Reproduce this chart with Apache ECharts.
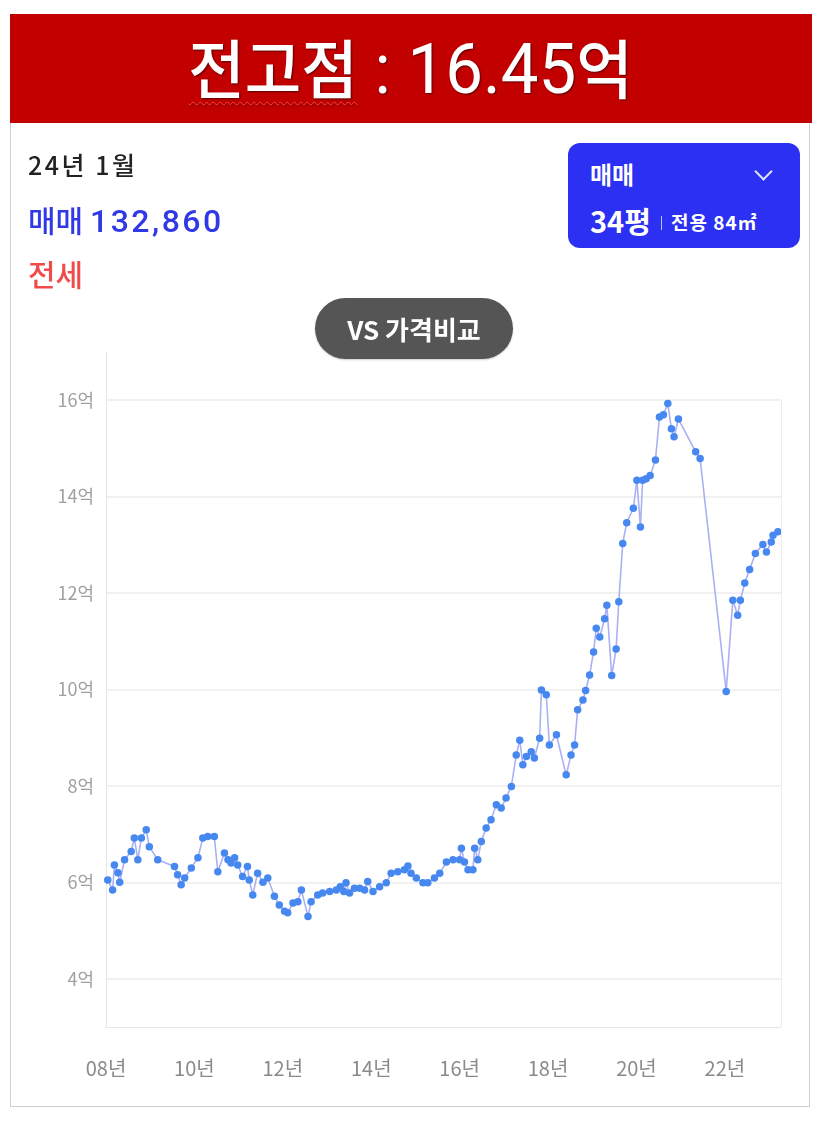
<!DOCTYPE html>
<html>
<head>
<meta charset="utf-8">
<script src="https://cdn.jsdelivr.net/npm/echarts@6/dist/echarts.min.js"></script>
<style>
  html, body { margin:0; padding:0; background:#fff; }
  body { width:827px; height:1122px; position:relative; overflow:hidden; font-family:"Noto Sans CJK KR","Noto Sans",sans-serif; }
  #card { position:absolute; left:10px; top:122px; width:800px; height:985px; border:1px solid #cfcfcf; border-top:none; box-sizing:border-box; }
  #header { position:absolute; left:10px; top:14px; width:802px; height:109px; background:#c30000; }
  #title { position:absolute; left:0; top:0; width:802px; height:109px; display:flex; align-items:center; justify-content:center; color:#fff; text-shadow:1px 1px 2px rgba(0,0,0,0.55); }
  #title .inner { transform:scaleX(0.96); white-space:nowrap; line-height:1; }
  #title .ko { font-family:"Noto Sans CJK KR"; font-size:64px; font-weight:500; }
  #title .num { font-family:"Roboto"; font-size:70px; font-weight:400; }
  #title .wavy { text-decoration:underline wavy #ff4040; text-decoration-thickness:1px; text-underline-offset:8px; }
  #chart { position:absolute; left:0; top:0; width:827px; height:1122px; }
  .info { position:absolute; left:28px; font-family:"Noto Sans CJK KR"; white-space:nowrap; line-height:1; }
  #date { top:152px; font-size:25px; color:#222; font-weight:500; letter-spacing:2.5px; }
  #sale { top:204px; font-size:30px; color:#3138e6; font-weight:500; }
  #sale .n { font-family:"Roboto"; font-size:32px; letter-spacing:2.5px; }
  #jeonse { top:258px; font-size:30px; color:#f04a4a; font-weight:500; }
  #sel { position:absolute; left:568px; top:143px; width:232px; height:105px; background:#2b30f2; border-radius:12px; color:#fff; font-family:"Noto Sans CJK KR"; }
  #sel .t1 { position:absolute; left:22px; top:19px; font-size:24px; font-weight:700; line-height:1; }
  #sel .chev { position:absolute; left:189px; top:22px; width:11px; height:11px; border-right:2px solid #dfe2ff; border-bottom:2px solid #dfe2ff; transform:rotate(45deg); transform-origin:center; }
  #sel .t2 { position:absolute; left:22px; top:63px; white-space:nowrap; line-height:1; }
  #sel .p { font-size:29px; font-weight:700; }
  #sel .bar { display:inline-block; width:1px; height:14px; background:#b9bdf8; margin:0 9px 0 10px; vertical-align:3px; }
  #sel .s { font-size:19px; font-weight:700; letter-spacing:1px; vertical-align:3px; }
  #vs { position:absolute; left:315px; top:298px; width:198px; height:61px; border-radius:31px; background:#555; color:#fff; font-family:"Noto Sans CJK KR"; font-size:26px; font-weight:700; display:flex; align-items:center; justify-content:center; box-shadow:0 1px 2px rgba(0,0,0,0.2); }
</style>
</head>
<body>
<div id="card"></div>
<div id="header"><div id="title"><div class="inner"><span class="ko wavy">전고점</span><span class="num"> : 16.45</span><span class="ko">억</span></div></div></div>
<div id="chart"></div>
<div class="info" id="date">24년 1월</div>
<div class="info" id="sale">매매 <span class="n">132,860</span></div>
<div class="info" id="jeonse">전세</div>
<div id="sel"><div class="t1">매매</div><div class="chev"></div><div class="t2"><span class="p">34평</span><span class="bar"></span><span class="s">전용 84㎡</span></div></div>
<div id="vs">VS 가격비교</div>
<script>
// decimal year of each transaction
const dates = [
  2008.04, 2008.15, 2008.19, 2008.27, 2008.31, 2008.42, 2008.57, 2008.64, 2008.72, 2008.80,
  2008.91, 2008.98, 2009.17, 2009.55, 2009.62, 2009.70, 2009.78, 2009.93, 2010.08, 2010.19,
  2010.30, 2010.45, 2010.53, 2010.68, 2010.76, 2010.83, 2010.91, 2010.98, 2011.09, 2011.20,
  2011.24, 2011.32, 2011.43, 2011.55, 2011.66, 2011.81, 2011.92, 2012.04, 2012.11, 2012.23,
  2012.34, 2012.42, 2012.57, 2012.64, 2012.79, 2012.90, 2013.06, 2013.21, 2013.30, 2013.38,
  2013.43, 2013.51, 2013.62, 2013.74, 2013.85, 2013.92, 2014.04, 2014.19, 2014.34, 2014.45,
  2014.60, 2014.75, 2014.83, 2014.90, 2015.02, 2015.17, 2015.28, 2015.43, 2015.55, 2015.70,
  2015.85, 2016.00, 2016.04, 2016.11, 2016.19, 2016.30, 2016.34, 2016.41, 2016.49, 2016.60,
  2016.71, 2016.83, 2016.94, 2017.05, 2017.17, 2017.28, 2017.36, 2017.43, 2017.51, 2017.62,
  2017.69, 2017.81, 2017.85, 2017.96, 2018.03, 2018.19, 2018.41, 2018.52, 2018.60, 2018.67,
  2018.79, 2018.85, 2018.94, 2019.03, 2019.09, 2019.17, 2019.28, 2019.33, 2019.44, 2019.54,
  2019.60, 2019.69, 2019.78, 2019.93, 2020.01, 2020.09, 2020.14, 2020.22, 2020.31, 2020.43,
  2020.52, 2020.61, 2020.71, 2020.79, 2020.85, 2020.95, 2021.34, 2021.44, 2022.03, 2022.18,
  2022.29, 2022.35, 2022.45, 2022.56, 2022.69, 2022.86, 2022.94, 2023.05, 2023.09, 2023.20
];
// sale price (억)
const prices = [
  6.05, 5.84, 6.36, 6.20, 6.00, 6.47, 6.64, 6.92, 6.47, 6.92,
  7.09, 6.74, 6.47, 6.33, 6.16, 5.95, 6.09, 6.30, 6.51, 6.92,
  6.95, 6.95, 6.22, 6.61, 6.47, 6.40, 6.51, 6.36, 6.12, 6.33,
  6.05, 5.74, 6.19, 6.00, 6.09, 5.71, 5.53, 5.40, 5.37, 5.57,
  5.60, 5.84, 5.29, 5.60, 5.74, 5.78, 5.81, 5.84, 5.91, 5.81,
  5.99, 5.78, 5.88, 5.88, 5.84, 6.02, 5.81, 5.91, 5.99, 6.19,
  6.22, 6.26, 6.34, 6.19, 6.09, 5.99, 5.99, 6.09, 6.19, 6.42,
  6.47, 6.47, 6.71, 6.42, 6.26, 6.26, 6.71, 6.47, 6.85, 7.13,
  7.30, 7.61, 7.54, 7.75, 7.99, 8.64, 8.95, 8.44, 8.61, 8.71,
  8.58, 8.99, 9.99, 9.89, 8.85, 9.06, 8.23, 8.64, 8.85, 9.58,
  9.78, 9.98, 10.30, 10.78, 11.27, 11.09, 11.47, 11.75, 10.29, 10.84,
  11.82, 13.03, 13.46, 13.76, 14.34, 13.37, 14.34, 14.37, 14.44, 14.76,
  15.65, 15.70, 15.93, 15.41, 15.24, 15.61, 14.93, 14.79, 9.96, 11.85,
  11.54, 11.85, 12.21, 12.49, 12.82, 13.01, 12.85, 13.06, 13.20, 13.27
];
const X_MIN = 2008, X_MAX = 2023.27;
const Y_MIN = 3, Y_MAX = 17;
const yLabelValues = [4, 6, 8, 10, 12, 14, 16];

const chart = echarts.init(document.getElementById('chart'), null, { renderer: 'canvas' });
chart.setOption({
  animation: false,
  backgroundColor: 'transparent',
  grid: { left: 106, right: 46, top: 352, bottom: 95, containLabel: false },
  xAxis: {
    type: 'value', min: X_MIN, max: X_MAX, interval: 2,
    axisLine: { show: true, lineStyle: { color: '#e6e6e6', width: 1 } },
    axisTick: { show: false },
    splitLine: { show: false },
    axisLabel: {
      margin: 31, color: '#8a8a8a', fontSize: 20, fontFamily: 'Noto Sans CJK KR',
      formatter: v => Number.isInteger(v) ? String(v % 100).padStart(2, '0') + '년' : ''
    }
  },
  yAxis: {
    type: 'value', min: Y_MIN, max: Y_MAX, interval: 1,
    axisLine: { show: true, lineStyle: { color: '#e6e6e6', width: 1 } },
    axisTick: { show: false },
    splitLine: { show: true, lineStyle: { color: ['rgba(0,0,0,0)', '#ececec'], width: 1.5 } },
    axisLabel: {
      margin: 12, color: '#a0a0a0', fontSize: 18, fontFamily: 'Noto Sans CJK KR',
      formatter: v => yLabelValues.includes(v) ? v + '억' : ''
    }
  },
  series: [{
    type: 'line',
    data: dates.map((d, i) => [d, prices[i]]),
    symbol: 'circle',
    symbolSize: 7.5,
    showAllSymbol: true,
    itemStyle: { color: '#4688f0' },
    lineStyle: { color: '#aab0f4', width: 1.6 },
    markLine: {
      silent: true, symbol: 'none', label: { show: false },
      lineStyle: { color: '#ececec', type: 'solid', width: 1 },
      data: [[{ coord: [X_MAX, Y_MIN] }, { coord: [X_MAX, 16] }]]
    }
  }]
});
</script>
</body>
</html>
